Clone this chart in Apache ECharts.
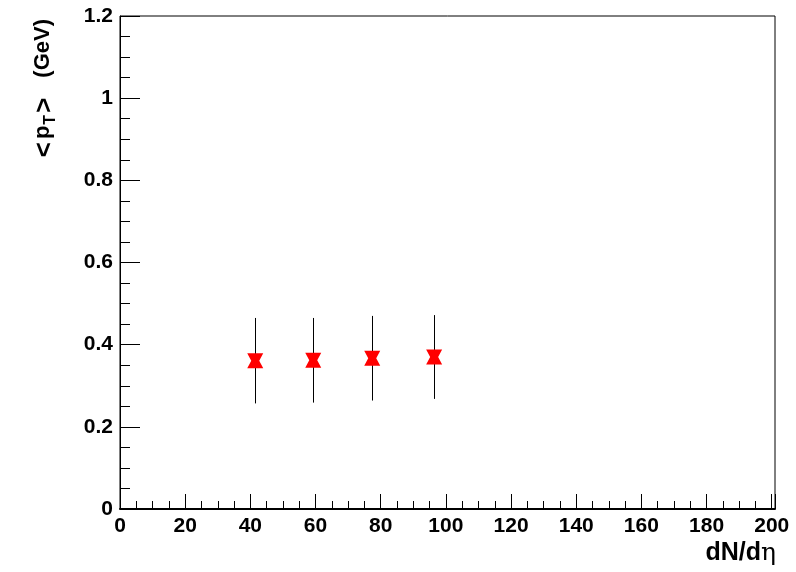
<!DOCTYPE html>
<html><head><meta charset="utf-8">
<script src="https://cdn.jsdelivr.net/npm/echarts@6/dist/echarts.min.js"></script>
<style>html,body{margin:0;padding:0;background:#fff}#c{width:796px;height:572px}</style>
</head><body><div id="c"></div>
<script>
// Data
const xValues = [41.5, 59.3, 77.4, 96.4];
const yValues = [0.361, 0.362, 0.367, 0.370];
const yErrors = [0.104, 0.103, 0.103, 0.102];
const xTitle = 'dN/d';
const xTitleGreek = 'η';
const yTitleParts = ['<', 'p', 'T', '>', '(GeV)'];

const FONT = '"Liberation Sans", Arial, Helvetica, sans-serif';
const points = xValues.map((x, i) => [x, yValues[i]]);
const errs = xValues.map((x, i) => [x, yValues[i], yErrors[i]]);

const chart = echarts.init(document.getElementById('c'), null, {renderer: 'canvas'});
chart.setOption({
  animation: false,
  backgroundColor: '#fff',
  grid: {left: 120, right: 21, top: 16, bottom: 63, show: true, borderColor: '#000', borderWidth: 1, backgroundColor: 'transparent'},
  xAxis: [{
    type: 'value', min: 0, max: 201, interval: 20, position: 'bottom',
    axisLine: {show: true, lineStyle: {color: '#000', width: 2}},
    axisTick: {show: true, inside: true, length: 15, lineStyle: {color: '#000', width: 1}},
    axisLabel: {margin: 7, color: '#000', fontFamily: FONT, fontWeight: 'bold', fontSize: 21,
      formatter: v => (v % 20 === 0 && v <= 200) ? String(v) : ''},
    splitLine: {show: false}
  }, {
    type: 'value', min: 0, max: 201, interval: 5, position: 'bottom',
    axisLine: {show: false},
    axisTick: {show: true, inside: true, length: 8, lineStyle: {color: '#000', width: 1}},
    axisLabel: {show: false},
    splitLine: {show: false}
  }],
  yAxis: {
    type: 'value', min: 0, max: 1.2, interval: 0.2,
    axisLine: {show: true, lineStyle: {color: '#000', width: 1}},
    axisTick: {show: true, inside: true, length: 20, lineStyle: {color: '#000', width: 1}},
    minorTick: {show: true, splitNumber: 4, length: 10, lineStyle: {color: '#000', width: 1}},
    axisLabel: {margin: 7, color: '#000', fontFamily: FONT, fontWeight: 'bold', fontSize: 21},
    splitLine: {show: false}
  },
  graphic: [{
    type: 'text', right: 20, top: 541,
    style: {
      text: '{b|' + xTitle + '}{g|' + xTitleGreek + '}',
      rich: {
        b: {fontFamily: FONT, fontWeight: 'bold', fontSize: 25, fill: '#000'},
        g: {fontFamily: '"DejaVu Serif", serif', fontWeight: 'normal', fontSize: 25, fill: '#000'}
      }
    }
  }, {
    type: 'text', x: 43, y: 19, rotation: Math.PI / 2,
    style: {
      text: '{lt|' + yTitleParts[0] + '}{n|' + yTitleParts[1] + '}{s|' + yTitleParts[2] + '}{gt|' + yTitleParts[3] + '}{n|' + yTitleParts[4] + '}',
      align: 'right', verticalAlign: 'middle',
      rich: {
        lt: {fontFamily: FONT, fontWeight: 'bold', fontSize: 26, lineHeight: 23, verticalAlign: 'top', padding: [0, 3, 0, 0], fill: '#000'},
        gt: {fontFamily: FONT, fontWeight: 'bold', fontSize: 26, lineHeight: 23, verticalAlign: 'top', padding: [0, 20, 0, 2], fill: '#000'},
        n: {fontFamily: FONT, fontWeight: 'bold', fontSize: 22, lineHeight: 23, verticalAlign: 'top', fill: '#000'},
        s: {fontFamily: FONT, fontWeight: 'bold', fontSize: 16, lineHeight: 16, padding: [15, 0, 0, 1], fill: '#000'}
      }
    }
  }],
  series: [{
    type: 'custom',
    data: errs,
    z: 2,
    renderItem: (params, api) => {
      const x = api.value(0), y = api.value(1), e = api.value(2);
      const p1 = api.coord([x, y - e]);
      const p2 = api.coord([x, y + e]);
      const px = Math.round(p1[0]) + 0.5;
      return {type: 'line', shape: {x1: px, y1: p1[1], x2: px, y2: p2[1]},
        style: {stroke: '#000', lineWidth: 1}};
    }
  }, {
    type: 'scatter',
    data: points,
    z: 3,
    symbol: 'path://M0,0 L20,0 L15,10 L20,20 L0,20 L5,10 Z',
    symbolSize: [16, 15],
    itemStyle: {color: '#ff0000', opacity: 1}
  }]
});
</script>
</body></html>
